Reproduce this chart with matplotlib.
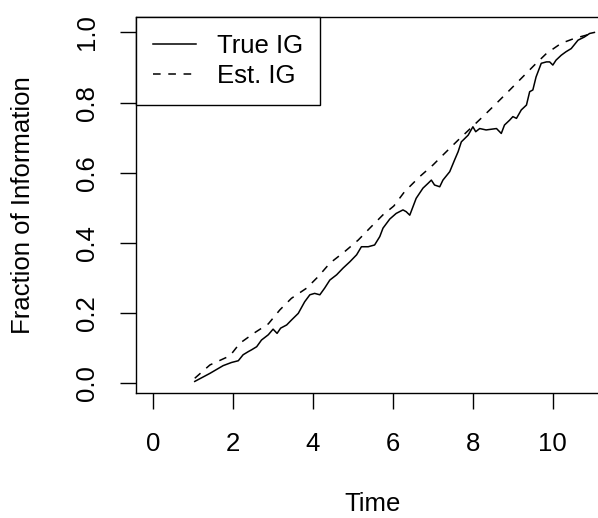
import matplotlib
matplotlib.use('Agg')
import matplotlib.pyplot as plt

plt.rcParams['font.family'] = ['Liberation Sans', 'DejaVu Sans']

# Valores
t_true = [1.04, 1.42, 1.75, 1.96, 2.13, 2.25, 2.38, 2.46, 2.59, 2.71, 2.88, 3.00, 3.10,
          3.19, 3.34, 3.46, 3.63, 3.79, 3.92, 4.04, 4.17, 4.29, 4.42, 4.59, 4.75, 4.92,
          5.09, 5.21, 5.38, 5.54, 5.67, 5.75, 5.92, 6.08, 6.25, 6.33, 6.42, 6.58, 6.75,
          6.88, 6.96, 7.04, 7.17, 7.25, 7.42, 7.54, 7.63, 7.71, 7.88, 8.00, 8.07, 8.17,
          8.33, 8.59, 8.71, 8.79, 8.92, 9.00, 9.09, 9.21, 9.34, 9.42, 9.50, 9.58, 9.71,
          9.84, 9.92, 10.00, 10.08, 10.21, 10.33, 10.46, 10.63, 10.79, 10.92, 11.04]
ig_true = [0.005, 0.028, 0.050, 0.059, 0.064, 0.081, 0.090, 0.095, 0.104, 0.123, 0.138,
           0.154, 0.142, 0.157, 0.166, 0.180, 0.199, 0.232, 0.252, 0.256, 0.252, 0.271,
           0.294, 0.309, 0.328, 0.346, 0.366, 0.389, 0.389, 0.394, 0.418, 0.442, 0.468,
           0.484, 0.494, 0.489, 0.479, 0.527, 0.556, 0.570, 0.579, 0.565, 0.560, 0.579,
           0.603, 0.636, 0.660, 0.688, 0.707, 0.731, 0.717, 0.726, 0.722, 0.726, 0.712,
           0.736, 0.750, 0.760, 0.755, 0.779, 0.793, 0.831, 0.836, 0.873, 0.912, 0.916,
           0.916, 0.907, 0.921, 0.935, 0.945, 0.954, 0.978, 0.987, 0.997, 1.000]

t_est = [1.04, 1.42, 1.92, 2.17, 2.54, 2.88, 3.17, 3.46, 3.84, 4.13, 4.42, 4.79, 5.13,
         5.42, 5.75, 6.02, 6.29, 6.67, 7.00, 7.29, 7.63, 8.25, 8.59, 8.88, 9.21, 9.54,
         9.84, 10.21, 10.54, 10.83, 11.04]
ig_est = [0.014, 0.052, 0.078, 0.114, 0.144, 0.169, 0.209, 0.242, 0.271, 0.304, 0.342,
          0.375, 0.408, 0.442, 0.480, 0.505, 0.546, 0.589, 0.622, 0.655, 0.693, 0.760,
          0.798, 0.831, 0.869, 0.907, 0.940, 0.969, 0.983, 0.992, 1.000]

W, H = 598, 518
fig = plt.figure(figsize=(W / 100, H / 100), dpi=100)
ax = fig.add_axes([136 / W, 1 - 393 / H, (600 - 136) / W, (393 - 17) / H])

ax.plot(t_true, ig_true, color='black', linewidth=1.1, label='True IG')
ax.plot(t_est, ig_est, color='black', linewidth=1.1, linestyle=(0, (5, 5)), label='Est. IG')

fs = 18.5
ax.set_xlim(-0.43, 11.18)
ax.set_ylim(-0.028, 1.044)
ax.set_xticks([0, 2, 4, 6, 8, 10])
ax.set_yticks([0.0, 0.2, 0.4, 0.6, 0.8, 1.0])
ax.set_yticklabels(['0.0', '0.2', '0.4', '0.6', '0.8', '1.0'], rotation=90, va='center')
ax.tick_params(axis='both', length=11.5, width=1.0, labelsize=fs, direction='out')
ax.tick_params(axis='x', pad=16.5)
ax.tick_params(axis='y', pad=15)
for s in ax.spines.values():
    s.set_linewidth(1.0)

fig.text(373 / W, 1 - 504 / H, 'Time', ha='center', va='center', fontsize=fs)
fig.text(23 / W, 1 - 205 / H, 'Fraction of Information', ha='center', va='center',
         rotation=90, fontsize=fs)

leg = ax.legend(loc='upper left', bbox_to_anchor=(0, 1), borderaxespad=0,
                fancybox=False, edgecolor='black', framealpha=1, fontsize=fs,
                handlelength=1.67, handletextpad=0.85, borderpad=0.65, labelspacing=0.25)
leg.get_frame().set_linewidth(1.0)

plt.savefig('out.png', dpi=100)
